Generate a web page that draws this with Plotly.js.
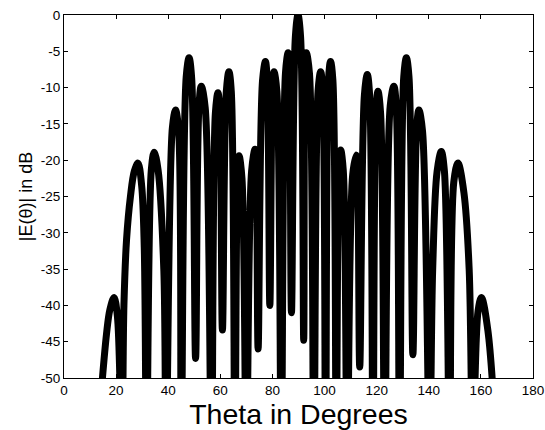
<!DOCTYPE html>
<html>
<head>
<meta charset="utf-8">
<script src="https://cdn.plot.ly/plotly-3.0.1.min.js"></script>
<style>
  html, body { margin: 0; padding: 0; background: #fff; }
  #chart { width: 545px; height: 430px; }
</style>
</head>
<body>
<div id="chart"></div>
<script>
// Angles (degrees) of the points: lobe peaks, nulls and flank points
var thetaDeg = [
  12.5, 16.3, 17.6, 19.2, 20.5, 22.2,
  23.0, 24.0, 25.5, 27.0, 28.4, 29.8, 30.8, 31.7,
  33.5, 34.6, 36.1, 38.3, 39.2,
  41.6, 42.8, 44.0, 45.0,
  46.9, 48.0, 49.0, 50.5,
  51.8, 52.7, 54.2, 56.6,
  58.1, 59.1, 59.8, 60.8,
  62.3, 63.3, 64.2, 65.6,
  66.6, 67.2, 68.3, 70.0,
  72.0, 73.3, 73.8, 74.5,
  76.2, 77.3, 78.0, 79.0,
  80.0, 80.6, 81.7, 83.4,
  85.0, 86.0, 86.5, 87.3,
  88.8, 89.8, 90.8, 92.0,
  92.5, 93.0, 94.2, 95.9,
  97.5, 98.5, 99.3, 100.4,
  101.5, 102.3, 103.2, 104.5,
  105.5, 106.2, 107.2, 108.7,
  110.8, 112.2, 112.7, 113.5,
  115.3, 116.4, 117.3, 118.6,
  119.7, 120.5, 121.5, 123.1,
  125.2, 126.6, 127.5, 128.8,
  130.4, 131.4, 132.4, 133.9,
  135.3, 136.2, 137.6, 140.3,
  141.5, 143.2, 144.8, 146.0, 148.0,
  149.6, 151.2, 153.5, 155.5, 156.9,
  158.9, 160.2, 162.7, 166.0
];
// |E(theta)| in dB at those angles (values below -50 are clipped by the axis)
var magnitudeDb = [
  -60, -44, -40.6, -38.9, -41.5, -60,
  -40, -31, -25, -21.5, -20.4, -23.5, -32, -60,
  -21.4, -18.9, -21.3, -35, -60,
  -15.5, -13.1, -16, -60,
  -8.5, -5.9, -8.7, -47.3,
  -12.5, -9.8, -12.8, -60,
  -13.5, -10.7, -13.5, -43.4,
  -10.5, -7.8, -10.5, -60,
  -22, -19.4, -22.5, -60,
  -21.5, -18.5, -21.5, -46,
  -9, -6.4, -9, -40,
  -10.5, -7.8, -10.5, -60,
  -8, -5.2, -8, -41,
  -3, 0, -3, -44.8,
  -8, -5.2, -8, -60,
  -10.5, -7.8, -10.5, -60,
  -9, -6.4, -9, -60,
  -21.5, -18.6, -21.5, -60,
  -22, -19.3, -22, -48.5,
  -11, -8.2, -11, -60,
  -13.5, -10.5, -13.5, -60,
  -12.5, -9.8, -12.5, -60,
  -8.5, -5.9, -8.5, -46.8,
  -16, -13.1, -16, -60,
  -35, -21.5, -18.8, -21.5, -60,
  -23, -20.4, -24.5, -35, -60,
  -40.8, -38.9, -43.5, -60
];
var xTicks = [0, 20, 40, 60, 80, 100, 120, 140, 160, 180];
var yTicks = [-50, -45, -40, -35, -30, -25, -20, -15, -10, -5, 0];

var trace = {
  x: thetaDeg,
  y: magnitudeDb,
  type: 'scatter',
  mode: 'lines',
  line: { color: '#000000', width: 7, shape: 'spline', smoothing: 1 },
  hoverinfo: 'skip'
};

var axisCommon = {
  showline: true, linecolor: '#000', linewidth: 1, mirror: 'ticks',
  ticks: 'inside', ticklen: 4, tickwidth: 1, tickcolor: '#000',
  showgrid: false, zeroline: false,
  tickfont: { family: 'Liberation Sans, Arial, sans-serif', size: 13.5, color: '#000' }
};

var layout = {
  width: 545, height: 430,
  margin: { l: 64, r: 12, t: 15, b: 52 },
  paper_bgcolor: '#fff', plot_bgcolor: '#fff',
  showlegend: false,
  font: { family: 'Liberation Sans, Arial, sans-serif', color: '#000' },
  xaxis: Object.assign({}, axisCommon, {
    range: [0, 180], tickvals: xTicks, ticktext: xTicks.map(String),
    title: { text: 'Theta in Degrees', font: { size: 28.5, color: '#000' }, standoff: 4 }
  }),
  yaxis: Object.assign({}, axisCommon, {
    range: [-50, 0], tickvals: yTicks, ticktext: yTicks.map(String),
    title: { text: '|E(\u03b8)| in dB', font: { size: 18, color: '#000' }, standoff: 3 }
  })
};

Plotly.newPlot('chart', [trace], layout, { staticPlot: true, displayModeBar: false });
</script>
</body>
</html>
